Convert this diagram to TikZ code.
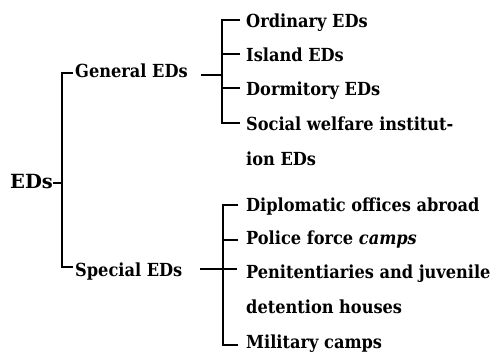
\documentclass[tikz,border=0pt]{standalone}
\usepackage{fontspec}
\setmainfont{DejaVu Serif}
\newfontfamily\cbfont{DejaVu Serif Condensed Bold}
\newfontfamily\cbifont{DejaVu Serif Condensed Bold Italic}
\begin{document}
\begin{tikzpicture}[x=1pt,y=-1pt,
  lbl/.style={anchor=base west, inner sep=0pt, font=\cbfont\fontsize{18}{20}\selectfont},
  rootlbl/.style={anchor=base west, inner sep=0pt, font=\bfseries\fontsize{19.5}{22}\selectfont},
  line/.style={line width=1.3pt}]
\useasboundingbox (0,0) rectangle (492,351);
% labels
\node[rootlbl] (root) at (10,188) {EDs};
\node[lbl] (gen) at (75,77) {General EDs};
\node[lbl] (spe) at (75,276) {Special EDs};
\node[lbl] (ord) at (246,27) {Ordinary EDs};
\node[lbl] (isl) at (246,61) {Island EDs};
\node[lbl] (dor) at (246,95) {Dormitory EDs};
\node[lbl] (soc) at (246,130) {Social welfare institut-};
\node[lbl] (soc2) at (246,165) {ion EDs};
\node[lbl] (dip) at (246,211) {Diplomatic offices abroad};
\node[lbl] (pol) at (246,244) {Police force {\cbifont camps}};
\node[lbl] (pen) at (246,278) {Penitentiaries and juvenile};
\node[lbl] (pen2) at (246,313) {detention houses};
\node[lbl] (mil) at (246,348) {Military camps};
% root bracket
\coordinate (rj) at (62,183);
\coordinate (rt) at (62,73);
\coordinate (rb) at (62,267);
\coordinate (rte) at (73,73);
\coordinate (rbe) at (73,267);
\coordinate (rs) at (53,183);
\draw[line] (rs) -- (rj);
\draw[line] (rte) -- (rt) -- (rb) -- (rbe);
% upper bracket
\coordinate (gt) at (201,75);
\coordinate (uj) at (222,75);
\coordinate (u1) at (222,20);
\coordinate (u4) at (222,123);
\coordinate (u1e) at (240,20);
\coordinate (u2) at (222,54);
\coordinate (u2e) at (240,54);
\coordinate (u3) at (222,88);
\coordinate (u3e) at (240,88);
\coordinate (u4e) at (240,123);
\draw[line] (gt) -- (uj);
\draw[line] (u1e) -- (u1) -- (u4) -- (u4e);
\draw[line] (u2) -- (u2e);
\draw[line] (u3) -- (u3e);
% lower bracket
\coordinate (st) at (200,269);
\coordinate (ste) at (237,269);
\coordinate (l1) at (223,205);
\coordinate (l1e) at (238,205);
\coordinate (l2) at (223,240);
\coordinate (l2e) at (238,240);
\coordinate (l4) at (223,345);
\coordinate (l4e) at (238,345);
\draw[line] (st) -- (ste);
\draw[line] (l1e) -- (l1) -- (l4) -- (l4e);
\draw[line] (l2) -- (l2e);
\end{tikzpicture}
\end{document}
